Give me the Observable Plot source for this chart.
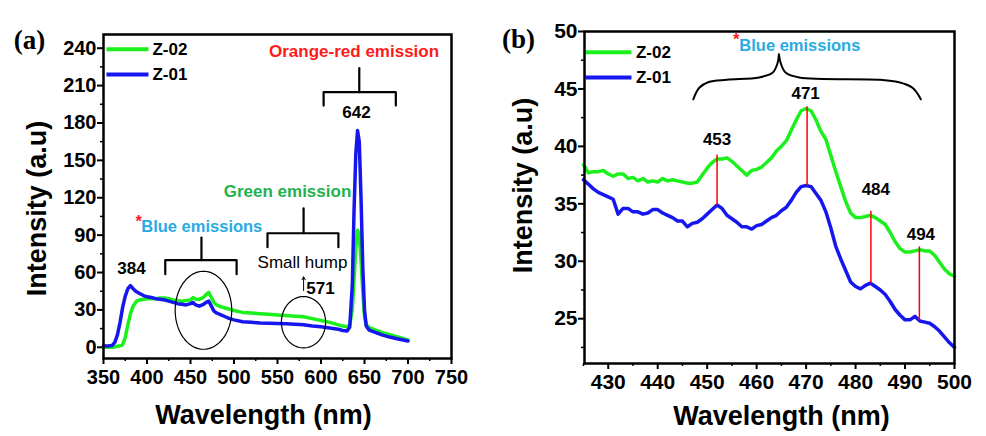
<!DOCTYPE html>
<html><head><meta charset="utf-8">
<script src="https://cdn.jsdelivr.net/npm/d3@7"></script>
<script src="https://cdn.jsdelivr.net/npm/@observablehq/plot@0.6"></script>
<style>
body{margin:0;background:#fff;}
#wrap{position:relative;width:986px;height:436px;overflow:hidden;background:#fff;}
#a,#b{position:absolute;top:0;}
#a{left:0}
#b{left:490px}
</style></head><body><div id="wrap"><div id="a"></div><div id="b"></div></div>
<script>
// ---------- Panel (a) data ----------
const wavelengthA = [350,355,360,363,366,369,372,375,378,381,384,388,392,396,400,405,410,415,420,425,430,435,440,445,450,453,456,460,465,468,471,474,477,480,485,490,495,500,510,520,530,540,550,560,570,580,590,600,610,620,625,630,633,636,638,640,642,644,646,648,650,652,655,660,670,680,690,700];
const z01A = [1,1,1.5,4,10,20,32,41,47,49.5,47,44.5,43,41.5,40.5,40,39,38.5,38,37,36,35,34.5,34,35,36,34,33,34.5,36,37,33,29,27.5,26,24.5,23,22,20.5,20,19.5,19.3,19,18.8,18.5,18,17,16.5,15.5,14.5,13.5,13,16,50,110,155,174,165,120,65,30,17,14,12.5,10,8,6.5,5];
const z02A = [0,0,0,0.3,0.8,1.2,2,8,18,27,33,37,38,38.5,39,39,39,39.5,39.5,39,38,37.5,37,37.5,38,40,38.5,38.5,40,42.5,44,40,36,34,32.5,31.5,30.5,29.5,28,27.5,27,26.5,26,25.5,25,24.5,23,21.5,20,18,17,16.5,18,30,55,80,94,90,70,45,25,18,16,14.5,12,10,8,6];
const xTicksA = [350,400,450,500,550,600,650,700,750];
const xMinorA = [375,425,475,525,575,625,675,725];
const yTicksA = [0,30,60,90,120,150,180,210,240];
const yMinorA = [15,45,75,105,135,165,195,225];

// ---------- Panel (b) data ----------
const wavelengthB = [425,426,427,428,429,430,431,432,433,434,435,436,437,438,439,440,441,442,443,444,445,446,447,448,449,450,451,452,453,454,455,456,457,458,459,460,461,462,463,464,465,466,467,468,469,470,471,472,473,474,475,476,477,478,479,480,481,482,483,484,485,486,487,488,489,490,491,492,493,494,495,496,497,498,499,500];
const z02B = [38.4,37.7,37.8,37.8,37.9,37.6,37.4,37.6,37.6,37.2,37.3,37.0,37.2,36.9,37.0,36.9,37.2,37.0,37.1,37.0,36.9,36.8,36.8,36.9,37.5,38.1,38.6,38.9,38.9,39.0,38.7,38.3,37.9,37.5,37.9,38.0,38.2,38.6,39.0,39.6,40.0,40.5,41.4,42.3,43.1,43.3,43.1,42.3,41.3,40.6,39.2,37.8,36.5,35.2,34.2,33.8,33.8,33.9,34.0,33.8,33.5,33.2,32.5,31.7,31.1,30.8,30.8,30.9,31.0,30.9,30.9,30.5,29.9,29.3,28.9,28.7];
const z01B = [37.1,36.7,36.3,36.0,35.8,35.6,35.4,34.1,34.6,34.6,34.3,34.3,34.1,34.2,34.5,34.5,34.2,34.0,33.8,33.5,33.5,33.0,33.3,33.4,33.7,34.1,34.5,34.9,34.6,34.0,33.7,33.4,33.0,33.0,32.8,33.1,33.2,33.5,33.8,34.0,34.4,34.7,35.3,36.0,36.5,36.6,36.5,35.9,35.3,34.3,32.9,31.3,30.2,29.2,28.2,27.8,27.6,27.9,28.1,27.8,27.5,27.1,26.5,25.8,25.3,24.9,24.9,25.2,24.8,24.7,24.6,24.3,23.9,23.4,22.9,22.5];
const xTicksB = [430,440,450,460,470,480,490,500];
const xMinorB = [425,435,445,455,465,475,485,495];
const yTicksB = [25,30,35,40,45,50];
const yMinorB = [22.5,27.5,32.5,37.5,42.5,47.5];

// peaks in (b)
const peakX = [452, 470.2, 483.1, 492.9];
const peakTop = [39.3, 43.5, 34.4, 31.3];
const peakBottom = [34.9, 36.6, 28.1, 24.9];
const peakLabels = ["453", "471", "484", "494"];
const peakLabelX = [452, 469.9, 484.1, 493.2];
const peakLabelY = [40.6, 44.6, 36.2, 32.3];

const seriesNames = ["Z-02", "Z-01"];

// ---------- styling ----------
const FONT = '"Liberation Sans", Arial, Helvetica, sans-serif';
const SERIF = '"Liberation Serif", "Times New Roman", serif';
const GREEN = "#1cf01c", BLUE = "#1616ee", RED = "#ff1a1a", LBLUE = "#29abe2", DGREEN = "#22b14c";

function ellipse(cx, cy, rx, ry) {
  return d3.range(0, 361, 4).map(a => ({x: cx + rx * Math.cos(a * Math.PI / 180), y: cy + ry * Math.sin(a * Math.PI / 180)}));
}
function bracket(x1, x2, xm, yH, yEnd, yTop) {
  return {shape: [{x: x1, y: yEnd}, {x: x1, y: yH}, {x: x2, y: yH}, {x: x2, y: yEnd}],
          stem: [{x: xm, y: yH}, {x: xm, y: yTop}]};
}
const axisStyle = {fontSize: 20, fontWeight: "bold"};

// ---------- Panel (a) ----------
const bOrange = bracket(603, 686, 644, 204.7, 194, 224);
const bGreen = bracket(538.5, 620, 580, 91.5, 80.3, 111.5);
const bBlue = bracket(421, 503, 462.6, 70, 58.6, 88);

const plotA = Plot.plot({
  width: 490, height: 436,
  marginLeft: 103, marginRight: 39, marginTop: 34, marginBottom: 78,
  style: {fontFamily: FONT, fontWeight: "bold", color: "#000", background: "transparent", overflow: "visible"},
  x: {domain: [350, 750]},
  y: {domain: [-9, 251]},
  marks: [
    Plot.axisX({ticks: xTicksA, tickSize: 6, tickPadding: 5, tickFormat: d => String(d), label: null, strokeWidth: 2, ...axisStyle}),
    Plot.axisX({ticks: xMinorA, tickSize: 3, tickFormat: () => "", label: null, strokeWidth: 1.5}),
    Plot.axisY({ticks: yTicksA, tickSize: 6, tickPadding: 1, tickFormat: d => String(d), label: null, strokeWidth: 2, ...axisStyle}),
    Plot.axisY({ticks: yMinorA, tickSize: 3, tickFormat: () => "", label: null, strokeWidth: 1.5}),
    Plot.line(wavelengthA, {x: wavelengthA, y: z02A, stroke: GREEN, strokeWidth: 3.5, strokeLinejoin: "round"}),
    Plot.line(wavelengthA, {x: wavelengthA, y: z01A, stroke: BLUE, strokeWidth: 3.5, strokeLinejoin: "round"}),
    // ellipses
    Plot.line(ellipse(464.9, 29.7, 32.5, 31.3), {x: "x", y: "y", stroke: "#000", strokeWidth: 1.2}),
    Plot.line(ellipse(579.9, 20.1, 25.4, 20.6), {x: "x", y: "y", stroke: "#000", strokeWidth: 1.2}),
    // brackets
    ...[bOrange, bGreen, bBlue].flatMap(b => [
      Plot.line(b.shape, {x: "x", y: "y", stroke: "#000", strokeWidth: 2.2, strokeLinejoin: "round", curve: "linear"}),
      Plot.line(b.stem, {x: "x", y: "y", stroke: "#000", strokeWidth: 2.2})
    ]),
    Plot.arrow([0], {x1: 580, y1: 45.5, x2: 580, y2: 56.5, stroke: "#000", strokeWidth: 1, headLength: 5}),
    // annotations
    Plot.text(["Orange-red emission"], {x: 638, y: 237, fill: RED, fontSize: 17, fontWeight: "bold"}),
    Plot.text(["642"], {x: 640.8, y: 188, fill: "#000", fontSize: 17, fontWeight: "bold"}),
    Plot.text(["Green emission"], {x: 561.5, y: 125.2, fill: DGREEN, fontSize: 17, fontWeight: "bold"}),
    Plot.text(["Small hump"], {x: 578.7, y: 68.2, fill: "#000", fontSize: 17, fontWeight: "normal"}),
    Plot.text(["571"], {x: 599.4, y: 47.4, fill: "#000", fontSize: 17, fontWeight: "bold"}),
    Plot.text(["384"], {x: 382.2, y: 63.4, fill: "#000", fontSize: 17, fontWeight: "bold"}),
    Plot.text(["*"], {x: 386.8, y: 101, fill: RED, fontSize: 16.5, fontWeight: "bold", textAnchor: "start"}),
    Plot.text(["Blue emissions"], {x: 393.4, y: 97.1, fill: LBLUE, fontSize: 16.5, fontWeight: "bold", textAnchor: "start"}),
    // legend
    Plot.link(seriesNames, {x1: 353.4, x2: 401.7, y1: [239.2, 219], y2: [239.2, 219], stroke: [GREEN, BLUE], strokeWidth: 4}),
    Plot.text(seriesNames, {x: 406.3, y: [239.2, 219], text: d => d, fill: "#000", fontSize: 17, fontWeight: "bold", textAnchor: "start"}),
    // titles
    Plot.text(["Wavelength (nm)"], {frameAnchor: "bottom", dx: -14, dy: 65, fontSize: 27, fontWeight: "bold", fill: "#000"}),
    Plot.text(["Intensity (a.u)"], {frameAnchor: "left", textAnchor: "middle", dx: -66, dy: 12, rotate: -90, fontSize: 27, fontWeight: "bold", fill: "#000"}),
    Plot.text(["(a)"], {frameAnchor: "top-left", textAnchor: "middle", dx: -74, dy: -5, fontSize: 27, fontWeight: "bold", fontFamily: SERIF, fill: "#000"}),
    Plot.frame({stroke: "#000", strokeWidth: 2.5})
  ]
});
document.getElementById("a").append(plotA);

// ---------- Panel (b) ----------
const braceLeft = [{x: 447.2, y: 44.1}, {x: 448.4, y: 45.1}, {x: 450.3, y: 45.6}, {x: 454, y: 45.8}, {x: 460.5, y: 46.0}, {x: 463.2, y: 46.4}, {x: 464.2, y: 47.2}, {x: 464.5, y: 48.0}];
const braceRight = [{x: 464.5, y: 48.0}, {x: 464.9, y: 47.2}, {x: 465.9, y: 46.4}, {x: 468.6, y: 46.0}, {x: 485, y: 45.8}, {x: 488.6, y: 45.6}, {x: 491.5, y: 45.1}, {x: 493.2, y: 44.1}];

const plotB = Plot.plot({
  width: 496, height: 436,
  marginLeft: 94, marginRight: 32, marginTop: 31, marginBottom: 73,
  style: {fontFamily: FONT, fontWeight: "bold", color: "#000", background: "transparent", overflow: "visible"},
  x: {domain: [425.2, 500]},
  y: {domain: [21.1, 50]},
  marks: [
    Plot.axisX({ticks: xTicksB, tickSize: 6, tickPadding: 5, tickFormat: d => String(d), label: null, strokeWidth: 2, fontSize: 21, fontWeight: "bold"}),
    Plot.axisX({ticks: xMinorB, tickSize: 3, tickFormat: () => "", label: null, strokeWidth: 1.5}),
    Plot.axisY({ticks: yTicksB, tickSize: 6, tickPadding: 1, tickFormat: d => String(d), label: null, strokeWidth: 2, fontSize: 21, fontWeight: "bold"}),
    Plot.axisY({ticks: yMinorB, tickSize: 3, tickFormat: () => "", label: null, strokeWidth: 1.5}),
    Plot.line(wavelengthB, {x: wavelengthB, y: z02B, stroke: GREEN, strokeWidth: 3.5, strokeLinejoin: "round"}),
    Plot.line(wavelengthB, {x: wavelengthB, y: z01B, stroke: BLUE, strokeWidth: 3.5, strokeLinejoin: "round"}),
    Plot.link(peakX, {x1: peakX, x2: peakX, y1: peakTop, y2: peakBottom, stroke: "#ff0000", strokeWidth: 1.5}),
    Plot.text(peakLabels, {x: peakLabelX, y: peakLabelY, text: d => d, fill: "#000", fontSize: 17, fontWeight: "bold"}),
    Plot.line(braceLeft, {x: "x", y: "y", stroke: "#000", strokeWidth: 2, curve: "catmull-rom"}),
    Plot.line(braceRight, {x: "x", y: "y", stroke: "#000", strokeWidth: 2, curve: "catmull-rom"}),
    Plot.text(["*"], {x: 455.2, y: 49.3, fill: RED, fontSize: 16.5, fontWeight: "bold", textAnchor: "start"}),
    Plot.text(["Blue emissions"], {x: 456.5, y: 48.8, fill: LBLUE, fontSize: 16.5, fontWeight: "bold", textAnchor: "start"}),
    Plot.link(seriesNames, {x1: 425.4, x2: 434.7, y1: [48.2, 46.0], y2: [48.2, 46.0], stroke: [GREEN, BLUE], strokeWidth: 4}),
    Plot.text(seriesNames, {x: 435.6, y: [48.2, 46.0], text: d => d, fill: "#000", fontSize: 17, fontWeight: "bold", textAnchor: "start"}),
    Plot.text(["Wavelength (nm)"], {frameAnchor: "bottom", dx: 12, dy: 61, fontSize: 27, fontWeight: "bold", fill: "#000"}),
    Plot.text(["Intensity (a.u)"], {frameAnchor: "left", textAnchor: "middle", dx: -61, dy: -12, rotate: -90, fontSize: 27, fontWeight: "bold", fill: "#000"}),
    Plot.text(["(b)"], {frameAnchor: "top-left", textAnchor: "middle", dx: -66, dy: -3, fontSize: 27, fontWeight: "bold", fontFamily: SERIF, fill: "#000"}),
    Plot.frame({stroke: "#000", strokeWidth: 2.5})
  ]
});
document.getElementById("b").append(plotB);
</script></body></html>
